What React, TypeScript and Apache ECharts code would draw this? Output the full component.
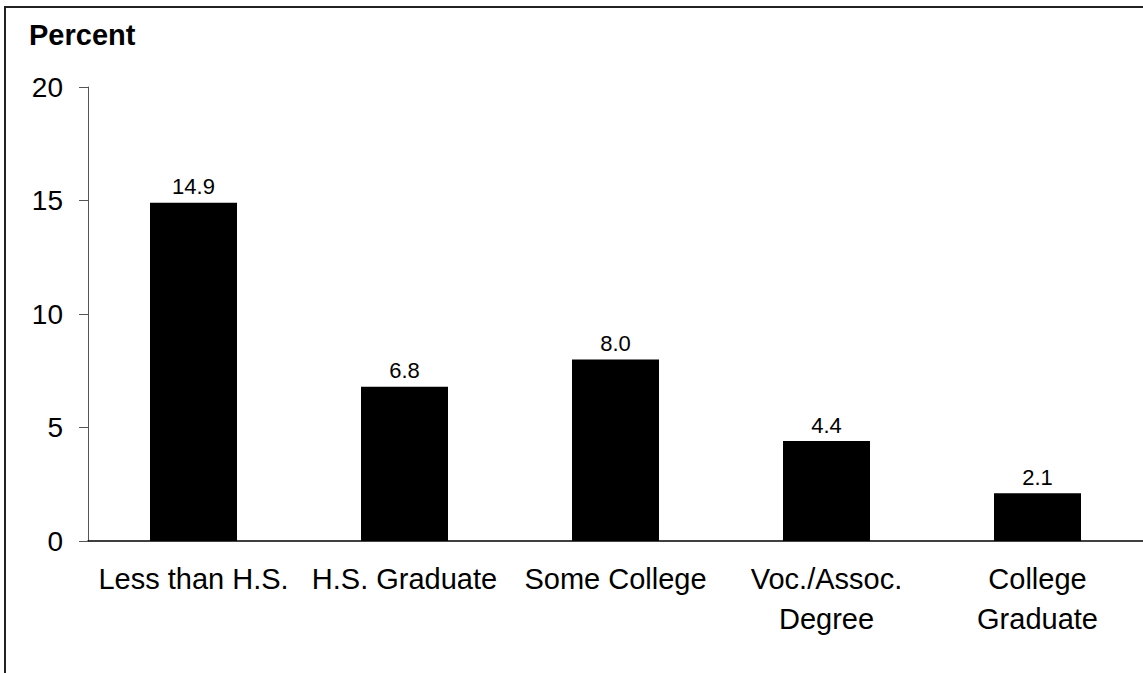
import React, { useEffect, useRef } from "react";
import * as echarts from "echarts";

const categories = [
  "Less than H.S.",
  "H.S. Graduate",
  "Some College",
  "Voc./Assoc.\nDegree",
  "College\nGraduate",
];
const values = [14.9, 6.8, 8.0, 4.4, 2.1];
const yTicks = [0, 5, 10, 15, 20];

export default function App() {
  const ref = useRef<HTMLDivElement>(null);
  useEffect(() => {
    if (!ref.current) return;
    const chart = echarts.init(ref.current, undefined, { renderer: "svg" });
    const font = "'Liberation Sans', Arial, sans-serif";
    chart.setOption({
      animation: false,
      backgroundColor: "#ffffff",
      textStyle: { fontFamily: font },
      graphic: [
        {
          type: "rect",
          shape: { x: 5, y: 7, width: 1300, height: 900 },
          style: { fill: "none", stroke: "#222", lineWidth: 2 },
          silent: true,
        },
        {
          type: "text",
          x: 29,
          y: 35,
          style: {
            text: "Percent",
            font: `bold 29px ${font}`,
            fill: "#000",
            verticalAlign: "middle",
          },
        },
      ],
      grid: { left: 88, top: 87, bottom: 132, right: -4, containLabel: false },
      xAxis: {
        type: "category",
        data: categories,
        axisLine: { show: true, lineStyle: { color: "#000", width: 1.5 } },
        axisTick: { show: false },
        axisLabel: {
          interval: 0,
          color: "#000",
          fontSize: 29,
          lineHeight: 40,
          margin: 18,
          fontFamily: font,
        },
      },
      yAxis: {
        type: "value",
        min: yTicks[0],
        max: yTicks[yTicks.length - 1],
        interval: 5,
        splitLine: { show: false },
        axisLine: { show: true, lineStyle: { color: "#555", width: 1 } },
        axisTick: { show: true, length: 9, lineStyle: { color: "#555" } },
        axisLabel: {
          color: "#000",
          fontSize: 28,
          margin: 25,
          fontFamily: font,
        },
      },
      series: [
        {
          type: "bar",
          data: values,
          barWidth: 87,
          itemStyle: { color: "#000" },
          label: {
            show: true,
            position: "top",
            distance: 5,
            color: "#000",
            fontSize: 22,
            fontFamily: font,
            formatter: (p: any) => Number(p.value).toFixed(1),
          },
        },
      ],
    });
    return () => chart.dispose();
  }, []);
  return <div ref={ref} style={{ width: 1143, height: 673, position: "absolute", left: 0, top: 0 }} />;
}
